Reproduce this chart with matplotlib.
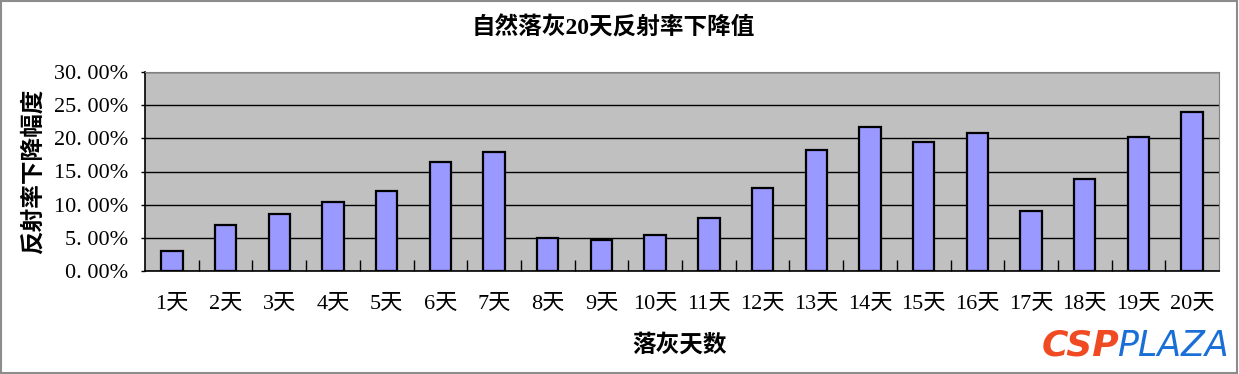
import matplotlib.pyplot as plt
import numpy as np
from matplotlib.patches import Rectangle
from matplotlib.ticker import FuncFormatter, FixedLocator

plt.rcParams['font.family'] = ['Liberation Serif', 'Noto Sans CJK SC', 'DejaVu Sans']

# data (fraction of reflectance drop)
days = [f"{i}天" for i in range(1, 21)]
drop = [0.030, 0.070, 0.086, 0.104, 0.121, 0.164, 0.179, 0.050, 0.046, 0.054,
        0.080, 0.125, 0.182, 0.217, 0.195, 0.208, 0.090, 0.139, 0.202, 0.240]
y_ticks = [0.0, 0.05, 0.10, 0.15, 0.20, 0.25, 0.30]

title = "自然落灰20天反射率下降值"
xlabel = "落灰天数"
ylabel = "反射率下降幅度"

fig = plt.figure(figsize=(12.39, 3.74), dpi=100)
ax = fig.add_axes([145 / 1239, 1 - 271 / 374, (1219 - 145) / 1239, (271 - 72) / 374])

x = np.arange(len(days))
ax.set_facecolor("#C0C0C0")
ax.set_axisbelow(True)
ax.yaxis.grid(True, color="black", linewidth=1.0)
ax.bar(x, drop, width=0.4, color="#9999FF", edgecolor="black", linewidth=1.6, zorder=3)

ax.set_xlim(-0.5, len(days) - 0.5)
ax.set_ylim(0, 0.30)
ax.set_yticks(y_ticks)
ax.yaxis.set_major_formatter(FuncFormatter(lambda v, p: f"{v * 100:.2f}%".replace(".", ". ")))
ax.tick_params(axis="y", labelsize=16, length=3, width=1, pad=9)

# category labels, ticks between categories pointing up
ax.set_xticks(x)
ax.set_xticklabels(days)
ax.tick_params(axis="x", which="major", length=0, labelsize=16, pad=17)
ax.xaxis.set_minor_locator(FixedLocator(np.arange(0.5, len(days) - 0.5, 1.0)))
ax.tick_params(axis="x", which="minor", direction="in", length=8, width=1)

for s in ["top", "right"]:
    ax.spines[s].set_color("#808080")
for s in ["left", "bottom"]:
    ax.spines[s].set_color("black")
    ax.spines[s].set_linewidth(1.2)

fig.text(0.5 - 0.005, 1 - 28 / 374, title, ha="center", va="center", fontsize=17, fontweight="bold")
fig.text(680 / 1239, 1 - 345 / 374, xlabel, ha="center", va="center", fontsize=17, fontweight="bold")
fig.text(33 / 1239, 1 - 171 / 374, ylabel, ha="center", va="center", rotation=90,
         fontsize=17, fontweight="bold")

# watermark logo
fig.text(1119 / 1239, 1 - 346 / 374, "CSP", ha="right", va="center", fontsize=26,
         fontweight="heavy", style="italic", color="#F04A22", family="DejaVu Sans")
fig.text(1229 / 1239, 1 - 346 / 374, "PLAZA", ha="right", va="center", fontsize=25,
         style="italic", color="#1A6FD6", family="DejaVu Sans")

# gray frame around the whole chart
fig.patches.append(Rectangle((0.001, 0.002), 0.997, 0.995, transform=fig.transFigure,
                             fill=False, edgecolor="#8C8C8C", linewidth=1.5))

fig.savefig("out.png", dpi=100)
